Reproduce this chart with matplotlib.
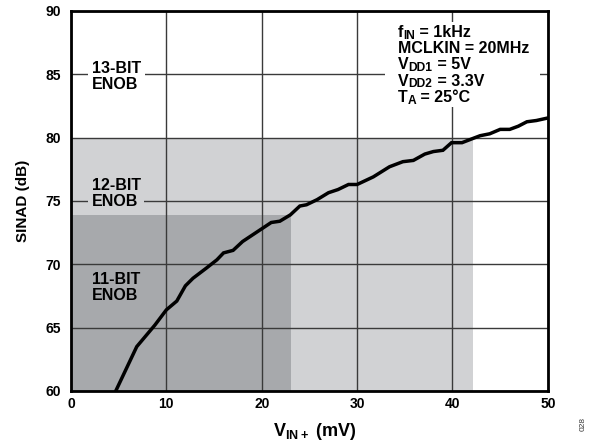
import matplotlib
matplotlib.use('Agg')
import matplotlib.pyplot as plt
from matplotlib.patches import Rectangle
from matplotlib.transforms import offset_copy

# SINAD vs input voltage
vin_mv = [4.7, 6.9, 8.8, 10.0, 11.1, 12.0, 12.8, 14.2, 15.3, 16.0, 17.0, 18.0,
          19.8, 21.0, 21.9, 23.0, 24.0, 24.7, 25.8, 27.0, 28.0, 29.1, 30.0,
          31.7, 33.4, 34.8, 35.9, 37.1, 38.0, 39.0, 39.9, 41.0, 42.2, 42.9,
          43.9, 45.0, 46.0, 46.9, 47.8, 48.8, 50.0]
sinad_db = [60.0, 63.5, 65.2, 66.4, 67.1, 68.3, 68.9, 69.7, 70.35, 70.9, 71.1,
            71.8, 72.7, 73.3, 73.4, 73.9, 74.6, 74.7, 75.1, 75.65, 75.9, 76.3,
            76.3, 76.9, 77.7, 78.1, 78.2, 78.7, 78.9, 79.0, 79.6, 79.6, 79.95,
            80.15, 80.3, 80.65, 80.65, 80.9, 81.25, 81.35, 81.55]

# ENOB bands: (x extent, SINAD upper bound)
enob_light_x, enob_light_top = 42.2, 80.0
enob_dark_x, enob_dark_top = 23.1, 73.9

# test conditions, as (text, is_subscript) pieces per line
conditions = [
    [('f', False), ('IN', True), (' = 1kHz', False)],
    [('MCLKIN = 20MHz', False)],
    [('V', False), ('DD1', True), (' = 5V', False)],
    [('V', False), ('DD2', True), (' = 3.3V', False)],
    [('T', False), ('A', True), (' = 25°C', False)],
]

plt.rcParams['font.family'] = ['Liberation Sans', 'DejaVu Sans']
plt.rcParams['font.weight'] = 'bold'
plt.rcParams['mathtext.fontset'] = 'custom'
plt.rcParams['mathtext.rm'] = 'Liberation Sans:bold'
plt.rcParams['mathtext.bf'] = 'Liberation Sans:bold'
plt.rcParams['mathtext.default'] = 'bf'

LIGHT = '#d1d2d4'
DARK = '#a7a9ac'

fig = plt.figure(figsize=(5.91, 4.44), dpi=100)
ax = fig.add_axes([0.120, 0.1194, 0.807, 0.856])
renderer = fig.canvas.get_renderer()

ax.fill_between([0, enob_light_x], 60, enob_light_top, color=LIGHT, lw=0, zorder=0)
ax.fill_between([0, enob_dark_x], 60, enob_dark_top, color=DARK, lw=0, zorder=0)

ax.set_xlim(0, 50)
ax.set_ylim(60, 90)
ax.set_xticks(range(0, 51, 10))
ax.set_yticks(range(60, 91, 5))
ax.grid(True, color='#3a3a3a', lw=1.0, zorder=1)
ax.set_axisbelow(True)
ax.tick_params(length=0, labelsize=10)
ax.tick_params(axis='y', pad=7)
ax.tick_params(axis='x', pad=4)
for lab in ax.get_xticklabels() + ax.get_yticklabels():
    lab.set_fontweight('bold')
for sp in ax.spines.values():
    sp.set_linewidth(2.0)
    sp.set_zorder(5)

ax.plot(vin_mv, sinad_db, color='black', lw=2.5, zorder=4, solid_joinstyle='miter')

# band labels, with boxes breaking the gridlines behind them
band_kw = dict(fontsize=11.5, fontweight='bold', va='center', ha='left',
               linespacing=1.08, zorder=3)
ax.text(2.2, 84.85, '13-BIT\nENOB',
        bbox=dict(facecolor='white', edgecolor='none', pad=2.5), **band_kw)
ax.text(2.2, 75.6, '12-BIT\nENOB',
        bbox=dict(facecolor=LIGHT, edgecolor='none', pad=2.5), **band_kw)
ax.text(2.2, 68.2, '11-BIT\nENOB', **band_kw)


def draw_line(x, y, pieces, size=11.5, sub_scale=0.75, sub_drop=1.8):
    """Write one line piece by piece so subscripts sit just below the baseline."""
    xoff = 0.0
    for txt, sub in pieces:
        tr = offset_copy(ax.transData, fig=fig, x=xoff,
                         y=-sub_drop if sub else 0, units='dots')
        t = ax.text(x, y, txt, transform=tr, va='baseline', ha='left',
                    fontsize=size * sub_scale if sub else size,
                    fontweight='bold', zorder=3)
        xoff += t.get_window_extent(renderer).width


# test conditions block on a white panel
ax.add_patch(Rectangle((32.9, 82.4), 16.3, 6.75, facecolor='white',
                       edgecolor='none', zorder=2))
line_step = 1.28
for i, pieces in enumerate(conditions):
    draw_line(34.3, 87.95 - i * line_step, pieces)

ax.set_xlabel(r'V$_{\mathbf{IN+}}$ (mV)', fontsize=13, fontweight='bold', va='top')
ax.xaxis.set_label_coords(0.512, -0.08)
ax.set_ylabel('SINAD (dB)', fontsize=11, fontweight='bold', labelpad=11)

fig.text(0.986, 0.03, '028', rotation=90, fontsize=6, fontweight='normal',
         color='#333333', ha='center', va='bottom')

fig.savefig('out.png', dpi=100)
